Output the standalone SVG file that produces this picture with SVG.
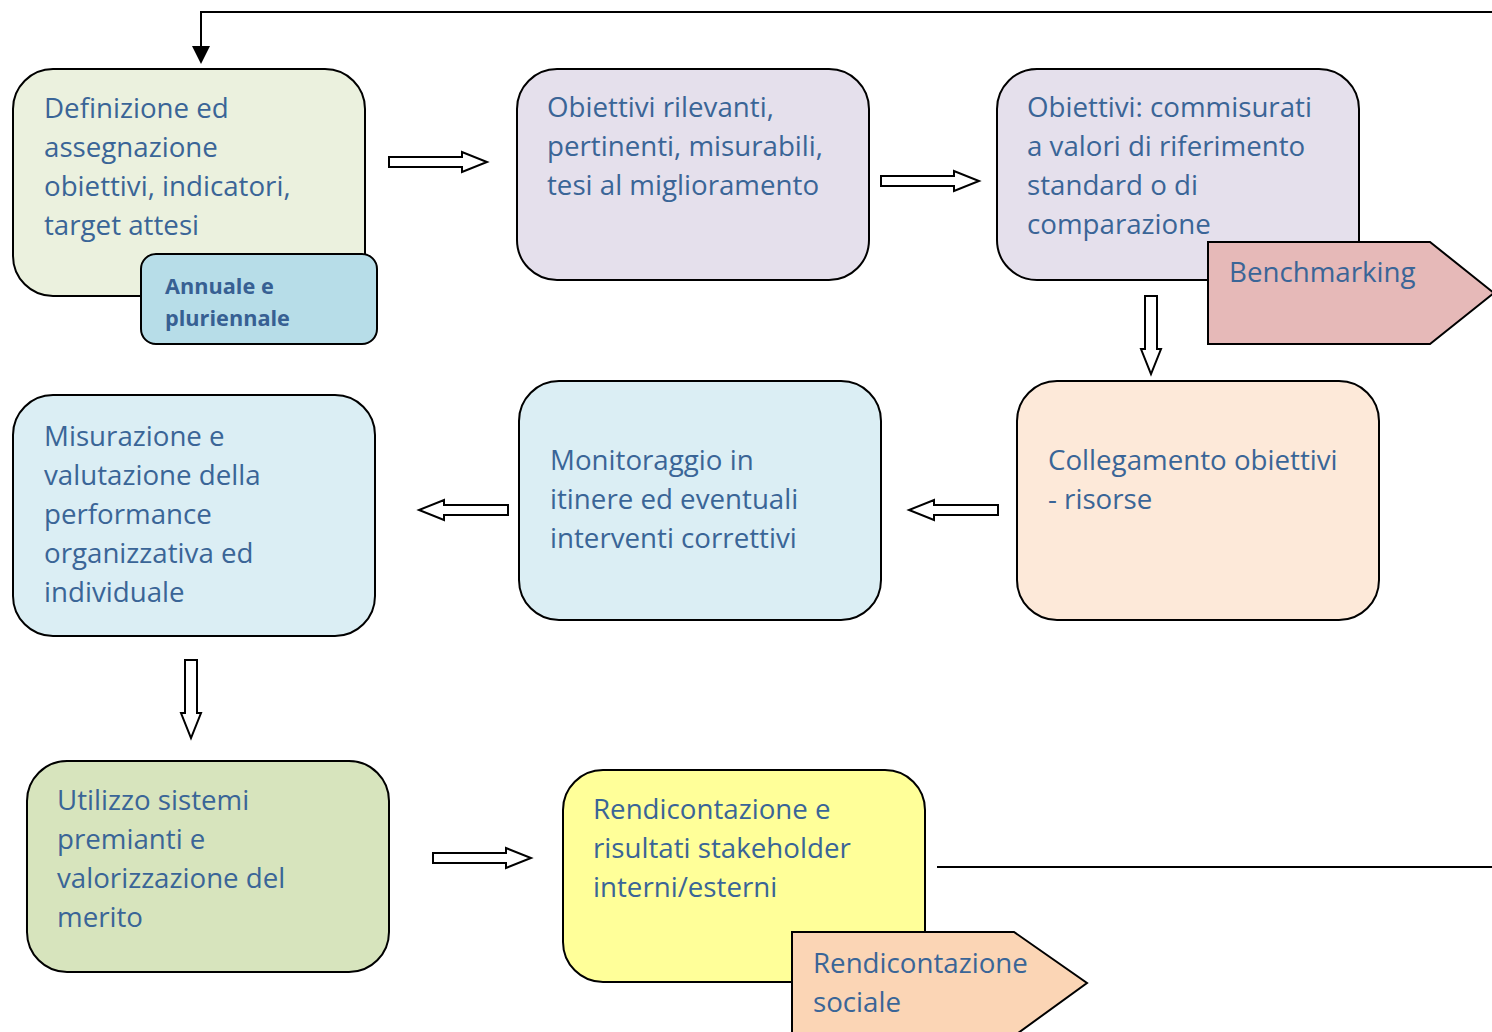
<svg xmlns="http://www.w3.org/2000/svg" width="1492" height="1032" viewBox="0 0 1492 1032">
<style>
.box{stroke:#000;stroke-width:2}
.t{font-family:"Open Sans","Liberation Sans",sans-serif;font-size:27.7px;fill:#3a6597}
.tb{font-family:"Open Sans","Liberation Sans",sans-serif;font-size:21.7px;font-weight:bold;fill:#376093}
.ba{fill:#fff;stroke:#000;stroke-width:2}
.ln{fill:none;stroke:#000;stroke-width:2}
</style>
<defs>
<marker id="ah" markerWidth="9" markerHeight="9" refX="8" refY="4.5" orient="auto" markerUnits="strokeWidth">
<path d="M0,0 L9,4.5 L0,9 z" fill="#000"/>
</marker>
</defs>
<rect width="1492" height="1032" fill="#fff"/>
<g id="connectors">
<path class="ln" d="M1492,12 H201 V62" marker-end="url(#ah)"/>
<line class="ln" x1="937" y1="867" x2="1492" y2="867"/>
<path class="ba" d="M389,157 H462 V152 L487,162 L462,172 V167 H389 Z"/>
<path class="ba" d="M881,176 H954 V171 L979,181 L954,191 V186 H881 Z"/>
<path class="ba" d="M1145,296 V349 H1141 L1151,374 L1161,349 H1157 V296 Z"/>
<path class="ba" d="M998,505 H934 V500 L909,510 L934,520 V515 H998 Z"/>
<path class="ba" d="M508,505 H444 V500 L419,510 L444,520 V515 H508 Z"/>
<path class="ba" d="M185,660 V713 H181 L191,738 L201,713 H197 V660 Z"/>
<path class="ba" d="M433,853 H506 V848 L531,858 L506,868 V863 H433 Z"/>
</g>
<g id="n1">
<rect class="box" x="13" y="69" width="352" height="227" rx="40" fill="#ebf1de"/>
<text class="t" x="44" y="118">Definizione ed</text>
<text class="t" x="44" y="157">assegnazione</text>
<text class="t" x="44" y="196">obiettivi, indicatori,</text>
<text class="t" x="44" y="235">target attesi</text>
</g>
<g id="n1b">
<rect class="box" x="141" y="254" width="236" height="90" rx="15" fill="#b7dde8"/>
<text class="tb" x="165" y="294">Annuale e</text>
<text class="tb" x="165" y="326">pluriennale</text>
</g>
<g id="n2">
<rect class="box" x="517" y="69" width="352" height="211" rx="40" fill="#e5e0ec"/>
<text class="t" x="547" y="117">Obiettivi rilevanti,</text>
<text class="t" x="547" y="156">pertinenti, misurabili,</text>
<text class="t" x="547" y="195">tesi al miglioramento</text>
</g>
<g id="n3">
<rect class="box" x="997" y="69" width="362" height="211" rx="40" fill="#e5e0ec"/>
<text class="t" x="1027" y="117">Obiettivi: commisurati</text>
<text class="t" x="1027" y="156">a valori di riferimento</text>
<text class="t" x="1027" y="195">standard o di</text>
<text class="t" x="1027" y="234">comparazione</text>
</g>
<g id="n3b">
<path class="box" d="M1208,242 H1430 L1494,293 L1430,344 H1208 Z" fill="#e6b9b8"/>
<text class="t" x="1229" y="282">Benchmarking</text>
</g>
<g id="n4">
<rect class="box" x="1017" y="381" width="362" height="239" rx="40" fill="#fde9d9"/>
<text class="t" x="1048" y="470">Collegamento obiettivi</text>
<text class="t" x="1048" y="509">- risorse</text>
</g>
<g id="n5">
<rect class="box" x="519" y="381" width="362" height="239" rx="40" fill="#dbeef4"/>
<text class="t" x="550" y="470">Monitoraggio in</text>
<text class="t" x="550" y="509">itinere ed eventuali</text>
<text class="t" x="550" y="548">interventi correttivi</text>
</g>
<g id="n6">
<rect class="box" x="13" y="395" width="362" height="241" rx="40" fill="#dbeef4"/>
<text class="t" x="44" y="446">Misurazione e</text>
<text class="t" x="44" y="485">valutazione della</text>
<text class="t" x="44" y="524">performance</text>
<text class="t" x="44" y="563">organizzativa ed</text>
<text class="t" x="44" y="602">individuale</text>
</g>
<g id="n7">
<rect class="box" x="27" y="761" width="362" height="211" rx="40" fill="#d7e4bd"/>
<text class="t" x="57" y="810">Utilizzo sistemi</text>
<text class="t" x="57" y="849">premianti e</text>
<text class="t" x="57" y="888">valorizzazione del</text>
<text class="t" x="57" y="927">merito</text>
</g>
<g id="n8">
<rect class="box" x="563" y="770" width="362" height="212" rx="40" fill="#ffff99"/>
<text class="t" x="593" y="819">Rendicontazione e</text>
<text class="t" x="593" y="858">risultati stakeholder</text>
<text class="t" x="593" y="897">interni/esterni</text>
</g>
<g id="n8b">
<path class="box" d="M792,932 H1014 L1087,983 L1014,1036 H792 Z" fill="#fbd5b5"/>
<text class="t" x="813" y="973">Rendicontazione</text>
<text class="t" x="813" y="1012">sociale</text>
</g>
</svg>
